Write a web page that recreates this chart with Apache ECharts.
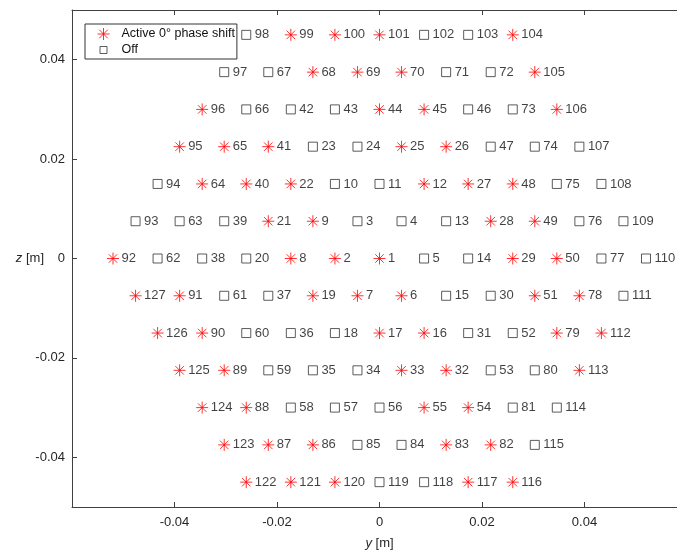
<!DOCTYPE html>
<html>
<head>
<meta charset="utf-8">
<script src="https://cdn.jsdelivr.net/npm/echarts@6/dist/echarts.min.js"></script>
<style>
html,body{margin:0;padding:0;background:#fff;}
#chart{width:677px;height:554px;}
</style>
</head>
<body>
<div id="chart"></div>
<script>
// Element numbers, row by row (top row first)
const elementId = [
  98, 99, 100, 101, 102, 103, 104,
  97, 67, 68, 69, 70, 71, 72, 105,
  96, 66, 42, 43, 44, 45, 46, 73, 106,
  95, 65, 41, 23, 24, 25, 26, 47, 74, 107,
  94, 64, 40, 22, 10, 11, 12, 27, 48, 75, 108,
  93, 63, 39, 21, 9, 3, 4, 13, 28, 49, 76, 109,
  92, 62, 38, 20, 8, 2, 1, 5, 14, 29, 50, 77, 110,
  127, 91, 61, 37, 19, 7, 6, 15, 30, 51, 78, 111,
  126, 90, 60, 36, 18, 17, 16, 31, 52, 79, 112,
  125, 89, 59, 35, 34, 33, 32, 53, 80, 113,
  124, 88, 58, 57, 56, 55, 54, 81, 114,
  123, 87, 86, 85, 84, 83, 82, 115,
  122, 121, 120, 119, 118, 117, 116
];
// y position [m]
const elementY = [
  -0.0260, -0.0173, -0.0087, 0, 0.0087, 0.0173, 0.0260,
  -0.0303, -0.0217, -0.0130, -0.0043, 0.0043, 0.0130, 0.0217, 0.0303,
  -0.0346, -0.0260, -0.0173, -0.0087, 0, 0.0087, 0.0173, 0.0260, 0.0346,
  -0.0390, -0.0303, -0.0217, -0.0130, -0.0043, 0.0043, 0.0130, 0.0217, 0.0303, 0.0390,
  -0.0433, -0.0346, -0.0260, -0.0173, -0.0087, 0, 0.0087, 0.0173, 0.0260, 0.0346, 0.0433,
  -0.0476, -0.0390, -0.0303, -0.0217, -0.0130, -0.0043, 0.0043, 0.0130, 0.0217, 0.0303, 0.0390, 0.0476,
  -0.0520, -0.0433, -0.0346, -0.0260, -0.0173, -0.0087, 0, 0.0087, 0.0173, 0.0260, 0.0346, 0.0433, 0.0520,
  -0.0476, -0.0390, -0.0303, -0.0217, -0.0130, -0.0043, 0.0043, 0.0130, 0.0217, 0.0303, 0.0390, 0.0476,
  -0.0433, -0.0346, -0.0260, -0.0173, -0.0087, 0, 0.0087, 0.0173, 0.0260, 0.0346, 0.0433,
  -0.0390, -0.0303, -0.0217, -0.0130, -0.0043, 0.0043, 0.0130, 0.0217, 0.0303, 0.0390,
  -0.0346, -0.0260, -0.0173, -0.0087, 0, 0.0087, 0.0173, 0.0260, 0.0346,
  -0.0303, -0.0217, -0.0130, -0.0043, 0.0043, 0.0130, 0.0217, 0.0303,
  -0.0260, -0.0173, -0.0087, 0, 0.0087, 0.0173, 0.0260
];
// z position [m]
const elementZ = [
  0.045, 0.045, 0.045, 0.045, 0.045, 0.045, 0.045,
  0.0375, 0.0375, 0.0375, 0.0375, 0.0375, 0.0375, 0.0375, 0.0375,
  0.030, 0.030, 0.030, 0.030, 0.030, 0.030, 0.030, 0.030, 0.030,
  0.0225, 0.0225, 0.0225, 0.0225, 0.0225, 0.0225, 0.0225, 0.0225, 0.0225, 0.0225,
  0.015, 0.015, 0.015, 0.015, 0.015, 0.015, 0.015, 0.015, 0.015, 0.015, 0.015,
  0.0075, 0.0075, 0.0075, 0.0075, 0.0075, 0.0075, 0.0075, 0.0075, 0.0075, 0.0075, 0.0075, 0.0075,
  0, 0, 0, 0, 0, 0, 0, 0, 0, 0, 0, 0, 0,
  -0.0075, -0.0075, -0.0075, -0.0075, -0.0075, -0.0075, -0.0075, -0.0075, -0.0075, -0.0075, -0.0075, -0.0075,
  -0.015, -0.015, -0.015, -0.015, -0.015, -0.015, -0.015, -0.015, -0.015, -0.015, -0.015,
  -0.0225, -0.0225, -0.0225, -0.0225, -0.0225, -0.0225, -0.0225, -0.0225, -0.0225, -0.0225,
  -0.030, -0.030, -0.030, -0.030, -0.030, -0.030, -0.030, -0.030, -0.030,
  -0.0375, -0.0375, -0.0375, -0.0375, -0.0375, -0.0375, -0.0375, -0.0375,
  -0.045, -0.045, -0.045, -0.045, -0.045, -0.045, -0.045
];
// 1 = active 0° phase shift, 0 = off
const elementActive = [
  0, 1, 1, 1, 0, 0, 1,
  0, 0, 1, 1, 1, 0, 0, 1,
  1, 0, 0, 0, 1, 1, 0, 0, 1,
  1, 1, 1, 0, 0, 1, 1, 0, 0, 0,
  0, 1, 1, 1, 0, 0, 1, 1, 1, 0, 0,
  0, 0, 0, 1, 1, 0, 0, 0, 1, 1, 0, 0,
  1, 0, 0, 0, 1, 1, 1, 0, 0, 1, 1, 0, 0,
  1, 1, 0, 0, 1, 1, 1, 0, 0, 1, 1, 0,
  1, 1, 0, 0, 0, 1, 1, 0, 0, 1, 1,
  1, 1, 0, 0, 0, 1, 1, 0, 0, 1,
  1, 1, 0, 0, 0, 1, 1, 0, 0,
  1, 1, 1, 0, 0, 1, 1, 0,
  1, 1, 1, 0, 0, 1, 1
];
const seriesNames = ['Active 0° phase shift', 'Off'];
const tickValuesY = [-0.04, -0.02, 0, 0.02, 0.04];
const tickValuesZ = [-0.04, -0.02, 0, 0.02, 0.04];

const FONT = '"Liberation Sans", Arial, Helvetica, sans-serif';
const starPath = 'path://M0,-10L0,10M-10,0L10,0M-7.07,-7.07L7.07,7.07M-7.07,7.07L7.07,-7.07';
const legendSquarePath = 'path://M-6,-6M6,6M-3.5,-3.5L3.5,-3.5L3.5,3.5L-3.5,3.5Z';

const activeData = [], offData = [];
for (let i = 0; i < elementId.length; i++) {
  const p = [elementY[i], elementZ[i], elementId[i]];
  (elementActive[i] ? activeData : offData).push(p);
}
const fmtTick = v => (Math.abs(v) < 1e-12 ? '0' : String(+v.toFixed(2)));

const chart = echarts.init(document.getElementById('chart'), null, {renderer: 'canvas'});
const axisLineStyle = {color: '#404040', width: 1};
const nameStyle = {fontFamily: FONT, fontSize: 13, color: '#262626',
  rich: {i: {fontStyle: 'italic', fontFamily: FONT, fontSize: 13, color: '#262626'}}};
chart.setOption({
  animation: false,
  backgroundColor: '#ffffff',
  textStyle: {fontFamily: FONT},
  grid: {left: 72, top: 10, width: 615, height: 497, containLabel: false, outerBoundsMode: 'none'},
  legend: {
    orient: 'vertical', left: 85, top: 24,
    borderColor: '#333', borderWidth: 1, backgroundColor: '#fff', borderRadius: 0,
    padding: [2, 2, 1, 12], itemGap: 0, itemWidth: 12, itemHeight: 12,
    selectedMode: false,
    textStyle: {fontFamily: FONT, fontSize: 12.5, color: '#111', lineHeight: 16, padding: [0, 0, 0, 7]},
    data: [
      {name: seriesNames[0], icon: starPath, itemStyle: {color: 'rgba(0,0,0,0)', borderColor: '#ff0000', borderWidth: 1}},
      {name: seriesNames[1], icon: legendSquarePath, itemStyle: {color: 'rgba(0,0,0,0)', borderColor: '#333', borderWidth: 1}}
    ]
  },
  xAxis: [{
    type: 'value', min: -0.06, max: 0.06, position: 'bottom',
    name: '{i|y} [m]', nameLocation: 'middle', nameGap: 30, nameMoveOverlap: false,
    nameTextStyle: nameStyle,
    axisLine: {show: true, onZero: false, lineStyle: axisLineStyle},
    axisTick: {show: true, inside: true, length: 5, lineStyle: axisLineStyle, customValues: tickValuesY},
    axisLabel: {show: true, margin: 9, fontFamily: FONT, fontSize: 13, color: '#262626', formatter: fmtTick, customValues: tickValuesY},
    splitLine: {show: false}
  }, {
    type: 'value', min: -0.06, max: 0.06, position: 'top',
    axisLine: {show: true, onZero: false, lineStyle: axisLineStyle},
    axisTick: {show: true, inside: true, length: 5, lineStyle: axisLineStyle, customValues: tickValuesY},
    axisLabel: {show: false},
    splitLine: {show: false}
  }],
  yAxis: [{
    type: 'value', min: -0.05, max: 0.05, position: 'left',
    name: '{i|z} [m]', nameLocation: 'middle', nameGap: 28, nameRotate: 0, nameMoveOverlap: false,
    nameTextStyle: nameStyle,
    axisLine: {show: true, onZero: false, lineStyle: axisLineStyle},
    axisTick: {show: true, inside: true, length: 5, lineStyle: axisLineStyle, customValues: tickValuesZ},
    axisLabel: {show: true, margin: 7, fontFamily: FONT, fontSize: 13, color: '#262626', formatter: fmtTick, customValues: tickValuesZ},
    splitLine: {show: false}
  }, {
    type: 'value', min: -0.05, max: 0.05, position: 'right',
    axisLine: {show: true, onZero: false, lineStyle: axisLineStyle},
    axisTick: {show: true, inside: true, length: 5, lineStyle: axisLineStyle, customValues: tickValuesZ},
    axisLabel: {show: false},
    splitLine: {show: false}
  }],
  series: [{
    name: seriesNames[0], type: 'scatter', xAxisIndex: 0, yAxisIndex: 0,
    symbol: starPath, symbolSize: 12,
    itemStyle: {color: 'rgba(0,0,0,0)', borderColor: '#ff0000', borderWidth: 1},
    label: {show: true, position: 'right', distance: 2, fontFamily: FONT, fontSize: 13, color: '#111',
      formatter: p => String(p.value[2])},
    emphasis: {disabled: true},
    data: activeData
  }, {
    name: seriesNames[1], type: 'scatter', xAxisIndex: 0, yAxisIndex: 0,
    symbol: 'rect', symbolSize: 9,
    itemStyle: {color: 'rgba(0,0,0,0)', borderColor: '#333', borderWidth: 1},
    label: {show: true, position: 'right', distance: 3.5, fontFamily: FONT, fontSize: 13, color: '#111',
      formatter: p => String(p.value[2])},
    emphasis: {disabled: true},
    data: offData
  }]
});
</script>
</body>
</html>
